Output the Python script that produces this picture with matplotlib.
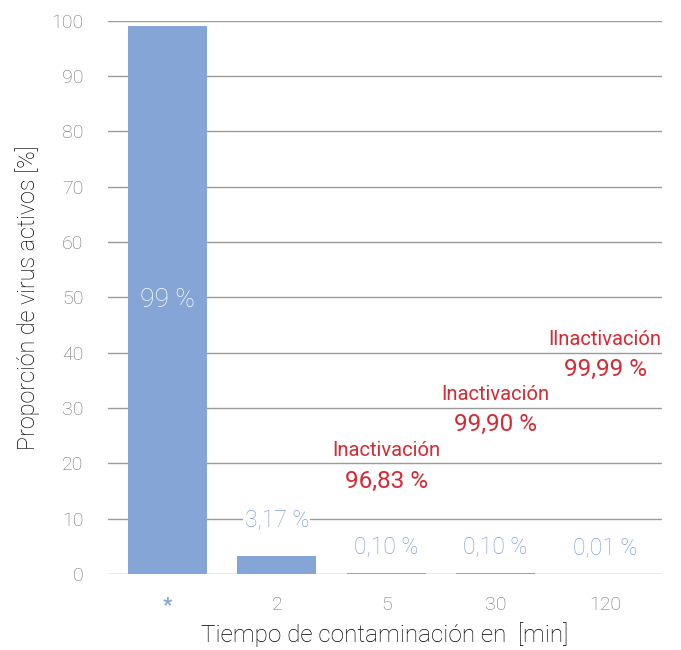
import matplotlib.pyplot as plt

plt.rcParams['font.family'] = ['Roboto', 'DejaVu Sans']

# Data
categories = ['*', '2', '5', '30', '120']
active = [99, 3.17, 0.10, 0.10, 0.01]
value_labels = ['99 %', '3,17 %', '0,10 %', '0,10 %', '0,01 %']
inact_idx = [2, 3, 4]
inact_titles = ['Inactivación', 'Inactivación', 'Ilnactivación']
inact_values = ['96,83 %', '99,90 %', '99,99 %']
inact_title_y = [22.4, 32.4, 42.3]
inact_value_y = [16.8, 27.0, 36.9]

bar_color = '#85a5d6'
red = '#d42a33'
grey = '#6f6f6f'

fig, ax = plt.subplots(figsize=(6.81, 6.5), dpi=100)
fig.subplots_adjust(left=0.159, right=0.972, top=0.968, bottom=0.117)

x = range(len(categories))
ax.bar(x, active, width=0.72, color=bar_color, zorder=2)

ax.set_ylim(0, 100)
ax.set_xlim(-0.54, 4.52)
ax.set_yticks(range(0, 101, 10))
ax.set_xticks(list(x))
ax.set_xticklabels(categories)
ax.yaxis.grid(True, color='#9a9a9a', linewidth=1, zorder=0)
ax.set_axisbelow(True)
for s in ax.spines.values():
    s.set_visible(False)
ax.tick_params(axis='both', length=0, labelsize=14, labelcolor=grey, pad=16)
ax.tick_params(axis='y', pad=18)
for lab in ax.get_yticklabels() + ax.get_xticklabels():
    lab.set_fontweight('light')
ax.get_xticklabels()[0].set_color(bar_color)
ax.get_xticklabels()[0].set_fontsize(15)
ax.get_xticklabels()[0].set_fontweight('bold')

ax.set_ylabel('Proporción de virus activos [%]', fontsize=16.8, fontweight='light',
              color='black', labelpad=8)
ax.set_xlabel('Tiempo de contaminación en  [min]', fontsize=17.5, fontweight='light',
              color='black', labelpad=5)

# value labels
ax.text(0, 49.5, value_labels[0], ha='center', va='center', color='white',
        fontsize=19, fontweight='light', zorder=3)
for i in range(1, len(active)):
    ax.text(i, active[i] + (6.4 if i == 1 else 4.6), value_labels[i], ha='center',
            va='center', color='#7f9fd3', fontsize=16.5, fontweight='light', zorder=3,
            bbox=dict(facecolor='white', edgecolor='none', pad=1))

for i, t, v, ty, vy in zip(inact_idx, inact_titles, inact_values, inact_title_y, inact_value_y):
    ax.text(i, ty, t, ha='center', va='center', color=red, fontsize=14.5,
            fontweight='normal', zorder=3,
            bbox=dict(facecolor='white', edgecolor='none', pad=1))
    ax.text(i, vy, v, ha='center', va='center', color=red, fontsize=17.5,
            fontweight='normal', zorder=3,
            bbox=dict(facecolor='white', edgecolor='none', pad=1))

fig.savefig('out.png', dpi=100)
